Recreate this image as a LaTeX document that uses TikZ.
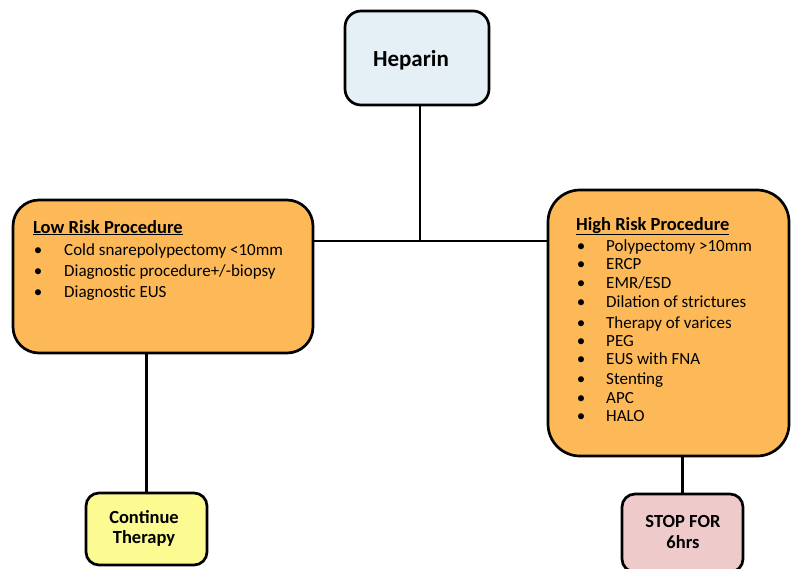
\documentclass[tikz,border=0pt]{standalone}
\usepackage{fontspec}
\setmainfont{Carlito}
\begin{document}
\begin{tikzpicture}[x=1pt,y=-1pt,
  box/.style={draw=black, line width=2.7pt, rectangle, inner sep=0pt},
  link/.style={draw=black, line width=2.8pt},
  txt/.style={inner sep=0pt, anchor=base west, text=black},
  ctr/.style={inner sep=0pt, anchor=base, text=black, font=\bfseries\fontsize{18.5}{20}\selectfont},
  item/.style={txt, font=\fontsize{17}{19}\selectfont},
  head/.style={txt, font=\bfseries\fontsize{18.5}{20}\selectfont},
  dot/.style={inner sep=0pt, anchor=base, text=black, font=\fontsize{17}{19}\selectfont}
]
\definecolor{hepfill}{HTML}{E5F0F6}
\definecolor{riskfill}{HTML}{FDB957}
\definecolor{contfill}{HTML}{FCFB92}
\definecolor{stopfill}{HTML}{EECACB}

\useasboundingbox (0,0) rectangle (791,568);

% boxes
\node[box, fill=hepfill, rounded corners=16pt, minimum width=144pt, minimum height=94pt] (hep) at (417,58) {};
\node[box, fill=riskfill, rounded corners=26pt, minimum width=300pt, minimum height=153pt] (low) at (163,276.5) {};
\node[box, fill=riskfill, rounded corners=32pt, minimum width=241pt, minimum height=266pt] (high) at (668.5,323) {};
\node[box, fill=contfill, rounded corners=13pt, minimum width=121pt, minimum height=72pt] (cont) at (146.5,529) {};
\node[box, fill=stopfill, rounded corners=13pt, minimum width=121pt, minimum height=78pt] (stop) at (682.5,533) {};

% connectors
\coordinate (j) at (420,241);
\draw[link] (hep.south -| j) -- (j);
\draw[link] (low.east |- j) -- (high.west |- j);
\draw[link] (low.south -| cont) -- (cont.north);
\draw[link] (high.south -| stop) -- (stop.north);

% heparin
\node[inner sep=0pt, anchor=base, font=\bfseries\fontsize{23}{25}\selectfont] (heptxt) at (411,66) {Heparin};

% low risk list
\node[head] (lowhead) at (33,233) {\underline{Low Risk Procedure}};
\node[dot] (lb1) at (38,255) {•};
\node[item] (li1) at (64,255) {Cold snarepolypectomy <10mm};
\node[dot] (lb2) at (38,276) {•};
\node[item] (li2) at (64,276) {Diagnostic procedure+/-biopsy};
\node[dot] (lb3) at (38,297) {•};
\node[item] (li3) at (64,297) {Diagnostic EUS};

% high risk list
\node[head] (highhead) at (576,230) {\underline{High Risk Procedure}};
\foreach \y/\t [count=\i] in {251/{Polypectomy >10mm}, 269/{ERCP}, 288/{EMR/ESD},
    307/{Dilation of strictures}, 328/{Therapy of varices}, 346/{PEG},
    364/{EUS with FNA}, 384/{Stenting}, 403/{APC}, 421/{HALO}} {
  \node[dot] (hb\i) at (581,\y) {•};
  \node[item] (hi\i) at (606,\y) {\t};
}

% outcomes
\node[ctr] (cont1) at (144,523) {Continue};
\node[ctr] (cont2) at (144,543) {Therapy};
\node[ctr] (stop1) at (683,527) {STOP FOR};
\node[ctr] (stop2) at (683,548) {6hrs};
\end{tikzpicture}
\end{document}
